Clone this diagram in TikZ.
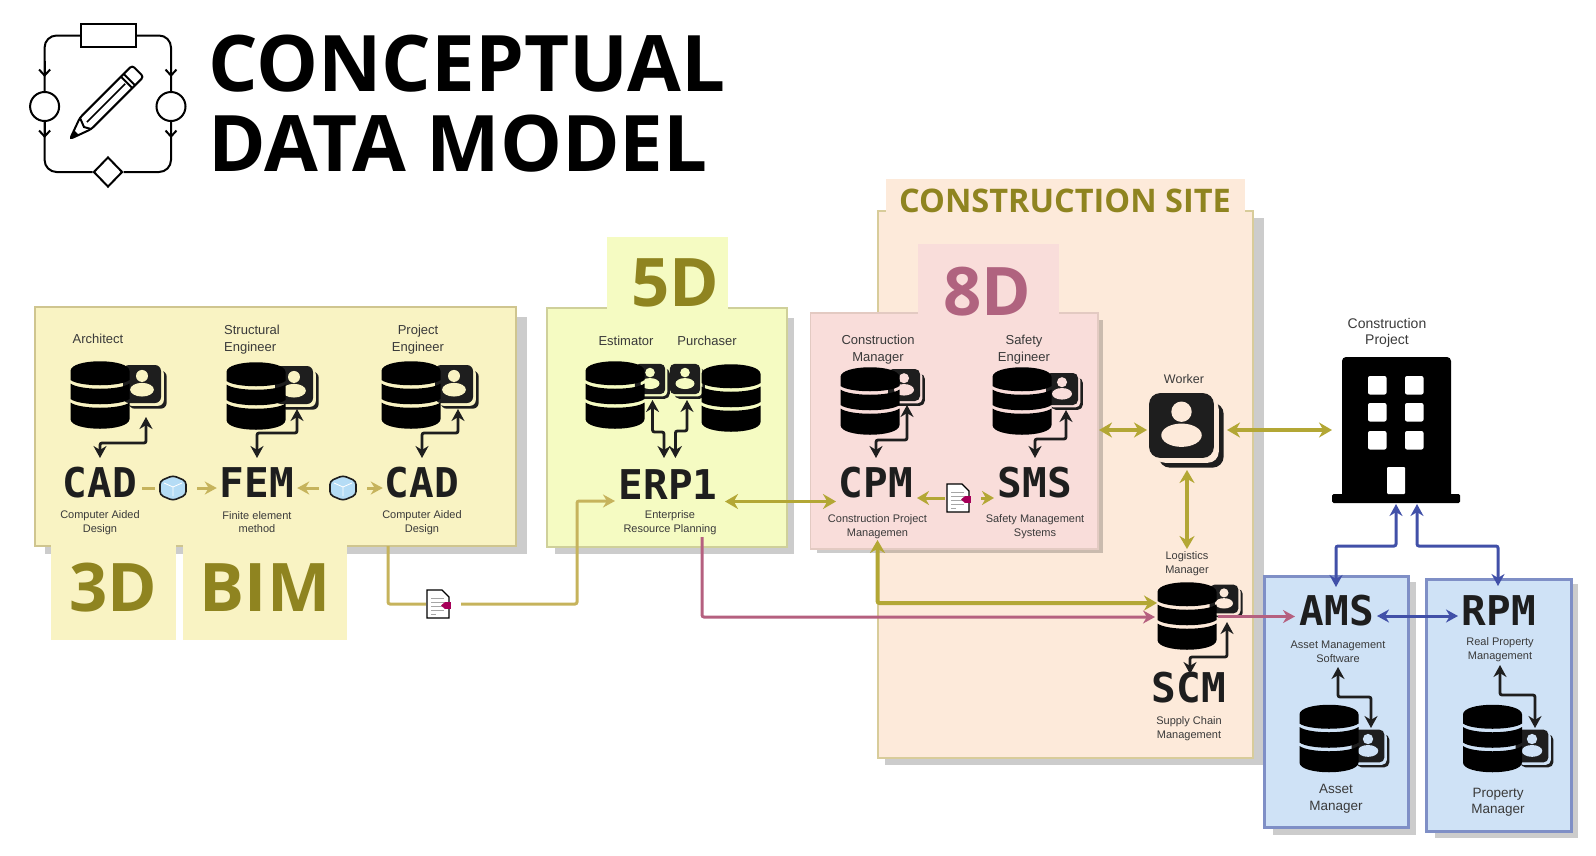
\documentclass[tikz,border=0pt]{standalone}
\usepackage{fontspec}
\setmainfont{Liberation Sans}
\newfontfamily\monofam{DejaVu Sans Mono}
\newfontfamily\headfam{Open Sans}
\usetikzlibrary{arrows.meta,shapes.geometric}
\definecolor{bimfill}{HTML}{F9F3C3}
\definecolor{bimedge}{HTML}{CFC58F}
\definecolor{erpfill}{HTML}{F5FBC2}
\definecolor{erpedge}{HTML}{CFD09A}
\definecolor{cpmfill}{HTML}{F9DDDA}
\definecolor{cpmedge}{HTML}{E3CAC2}
\definecolor{sitefill}{HTML}{FDEADA}
\definecolor{siteedge}{HTML}{D8CC9A}
\definecolor{amsfill}{HTML}{CFE2F6}
\definecolor{amsedge}{HTML}{7F8FC6}
\definecolor{olivetext}{HTML}{8F8420}
\definecolor{rosetext}{HTML}{B0637F}
\definecolor{tanline}{HTML}{C6B35C}
\definecolor{oliveline}{HTML}{B3A735}
\definecolor{roseline}{HTML}{B5607F}
\definecolor{blueline}{HTML}{4150A8}
\definecolor{inkline}{HTML}{1E1E1E}
\definecolor{labelink}{HTML}{3A3A3A}
\definecolor{cubeblue}{HTML}{B5DCF5}
\tikzset{
  lab/.style={font=\fontsize{13}{16.5}\selectfont,text=labelink,align=center,inner sep=0pt},
  sublab/.style={font=\fontsize{11}{13.8}\selectfont,text=labelink,align=center,inner sep=0pt},
  sysname/.style={font=\monofam\bfseries\fontsize{41}{41}\selectfont,text=inkline,inner sep=0pt},
  dimname/.style={font=\headfam\bfseries\fontsize{67}{67}\selectfont,inner sep=0pt},
  titlename/.style={font=\headfam\bfseries\fontsize{78}{78}\selectfont,inner sep=0pt,anchor=west},
  panelshade/.style={fill=black,opacity=.2},
  logoline/.style={draw=black,line width=2pt},
  logoflow/.style={logoline,-{Straight Barb[length=6pt,width=11pt]}},
  linkink/.style={draw=inkline,line width=2.8pt,rounded corners=2pt,{Stealth[length=12pt,width=13pt]}-{Stealth[length=12pt,width=13pt]}},
  linktan/.style={draw=tanline,line width=3pt,rounded corners=2pt},
  linkolive/.style={draw=oliveline,line width=3pt,rounded corners=2pt},
  linkrose/.style={draw=roseline,line width=3pt,rounded corners=2pt},
  linkblue/.style={draw=blueline,line width=3pt,rounded corners=2pt,{Stealth[length=12pt,width=13pt]}-{Stealth[length=12pt,width=13pt]}},
  tiptan/.style={-{Stealth[length=12pt,width=13pt]}},
  tipolive/.style={-{Stealth[length=12pt,width=14pt]}},
  bothtips/.style={{Stealth[length=13pt,width=15pt]}-{Stealth[length=13pt,width=15pt]}},
  tiprose/.style={-{Stealth[length=12pt,width=13pt]}},
  iconslot/.style={inner sep=0pt,minimum width=#1},
  pics/dbstack/.style={code={
    \fill[black] (-29.5,-24) .. controls (-29.5,-37) and (29.5,-37) .. (29.5,-24)
      -- (29.5,-15) .. controls (20,-8) and (-20,-8) .. (-29.5,-15) -- cycle;
    \fill[black] (-29.5,-11.5) .. controls (-20,-4.5) and (20,-4.5) .. (29.5,-11.5)
      -- (29.5,4) .. controls (20,11) and (-20,11) .. (-29.5,4) -- cycle;
    \fill[black] (-29.5,7.5) .. controls (-20,14.5) and (20,14.5) .. (29.5,7.5)
      -- (29.5,24) .. controls (29.5,37) and (-29.5,37) .. (-29.5,24) -- cycle;
  }},
  pics/person/.style 2 args={code={
    \fill[inkline,rounded corners=#2] (-14,-14) rectangle (26,26);
    \fill[#1,rounded corners=#2] (-17,-17) rectangle (23,23);
    \fill[inkline,rounded corners=#2] (-20,-20) rectangle (20,20);
    \fill[#1] (0,-8.5) circle (6.3);
    \fill[#1] (0,6) ellipse (12.5 and 7.2);
  }},
  pics/sheet/.style={code={
    \filldraw[fill=white,draw=black,line width=1.2pt] (-11,-14) -- (4,-14) -- (11,-7) -- (11,14) -- (-11,14) -- cycle;
    \foreach \ly in {-6,-2,2,6} \draw[gray!70,line width=.7pt] (-7,\ly) -- (6,\ly);
    \draw[gray!70,line width=.7pt] (-7,10) -- (-2,10);
    \fill[violet!70!red] (7,-2) rectangle (13,5);
    \fill[violet!70!red] (7,-2) -- (3,1.5) -- (7,5) -- cycle;
  }},
  pics/cube/.style={code={
    \filldraw[fill=cubeblue,draw=inkline,line width=1.6pt,rounded corners=3.5pt]
      (0,-12.5) -- (13,-7) -- (13,7) -- (0,12.5) -- (-13,7) -- (-13,-7) -- cycle;
    \draw[white,line width=.8pt] (0,-1) -- (0,8) (0,-1) -- (-9,-5) (0,-1) -- (9,-5);
  }}
}
\begin{document}
\begin{tikzpicture}[x=1pt,y=-1pt]
\useasboundingbox (0,0) rectangle (1596,855);
% logo
\node[draw=black,line width=2pt,fill=white,minimum width=55pt,minimum height=23pt,inner sep=0pt] (logotop) at (108.5,35.5) {};
\node[draw=black,line width=2pt,fill=white,circle,minimum size=29pt,inner sep=0pt] (logoleft) at (44.6,106.5) {};
\node[draw=black,line width=2pt,fill=white,circle,minimum size=29pt,inner sep=0pt] (logoright) at (171,106.5) {};
\node[draw=black,line width=2pt,fill=white,diamond,minimum width=29pt,minimum height=30pt,inner sep=0pt] (logobase) at (108,172) {};
\draw[logoline,rounded corners=12pt] (logotop.west) -| (logoleft.north);
\draw[logoline,rounded corners=12pt] (logoleft.south) |- (logobase.west);
\draw[logoline,rounded corners=12pt] (logobase.east) -| (logoright.south);
\draw[logoline,rounded corners=12pt] (logoright.north) |- (logotop.east);
\draw[logoflow] ([yshift=30pt]logoleft.north) -- ([yshift=14pt]logoleft.north);
\draw[logoflow] ([yshift=30pt]logoright.north) -- ([yshift=14pt]logoright.north);
\draw[logoflow] (logoleft.south) -- ([yshift=-16pt]logoleft.south);
\draw[logoflow] (logoright.south) -- ([yshift=-16pt]logoright.south);
\draw[logoline,rounded corners=3pt] (70,139) -- (79.9,117.7) -- (132.2,65.4) -- (143.6,76.8) -- (91.3,129.1) -- cycle;
\draw[logoline] (79.9,117.7) -- (84,127) -- (91.3,129.1);
\draw[logoline] (123.7,73.9) -- (135.1,85.3);
\draw[logoline] (120.9,76.7) -- (132.3,88.1);
\draw[line width=1.6pt] (87,122) -- (125.2,83.8);
\fill[black] (70,139) -- (74,130) -- (79,135) -- cycle;
\node[titlename] (titleone) at (208,64) {CONCEPTUAL};
\node[titlename] (titletwo) at (208,144) {DATA MODEL};
% construction site
\fill[panelshade] (885,218) rectangle (1264,765);
\draw[fill=sitefill,draw=siteedge,line width=2pt] (878,211) rectangle (1253,758);
\fill[sitefill] (886,179) rectangle (1245,212);
\node[font=\headfam\bfseries\fontsize{32.5}{32.5}\selectfont,text=olivetext,inner sep=0pt] (sitename) at (1065,200.5) {CONSTRUCTION SITE};
% 3d and bim
\fill[panelshade] (45,317) rectangle (527,554);
\draw[fill=bimfill,draw=bimedge,line width=1.5pt] (35,307) rectangle (516,546);
\fill[bimfill] (51,545) rectangle (176,640);
\fill[bimfill] (183,545) rectangle (347,640);
\node[dimname,text=olivetext] (dimthree) at (113,588) {3D};
\node[dimname,text=olivetext] (dimbim) at (265,588) {BIM};
% 5d
\fill[panelshade] (555,318) rectangle (794,554);
\draw[fill=erpfill,draw=erpedge,line width=1.5pt] (547,308) rectangle (787,547);
\fill[erpfill] (606.5,237) rectangle (728,309);
\node[dimname,text=olivetext] (dimfive) at (675,283) {5D};
% 8d
\fill[panelshade] (817,320) rectangle (1103,553);
\draw[fill=cpmfill,draw=cpmedge,line width=1.5pt] (810.5,313) rectangle (1098,549);
\fill[cpmfill] (918,244) rectangle (1059,314);
\node[dimname,text=rosetext] (dimeight) at (987,292) {8D};
% asset and property boxes
\fill[panelshade] (1273,582) rectangle (1416,835);
\draw[fill=amsfill,draw=amsedge,line width=3pt] (1264,576) rectangle (1408,827);
\fill[panelshade] (1435,584) rectangle (1578,838);
\draw[fill=amsfill,draw=amsedge,line width=3pt] (1426,579) rectangle (1571,831);
% building
\fill[black,rounded corners=4pt] (1342,357) rectangle (1451,498);
\fill[black,rounded corners=1.5pt] (1332,494) rectangle (1460,503);
\foreach \wx in {1368,1405} \foreach \wy in {376,403,431}
  \fill[white,rounded corners=2pt] (\wx,\wy) rectangle ++(18.5,18.5);
\fill[white,rounded corners=1pt] (1387,467) rectangle (1405,494);
\node[lab,font=\fontsize{14}{16.5}\selectfont] (projlab) at (1387,333) {Construction\\Project};
\coordinate (bldgwest) at (1332,430);
\coordinate (bldgams) at (1396,504);
\coordinate (bldgrpm) at (1417,504);
% role icons
\pic[scale=.95] at (142,384) {person={bimfill}{6pt}};
\pic at (100,395) {dbstack};
\pic[scale=.95] at (294,385) {person={bimfill}{6pt}};
\pic at (256,396) {dbstack};
\pic[scale=.95] at (454,384) {person={bimfill}{6pt}};
\pic at (411,395) {dbstack};
\pic[scale=.76] at (650,379) {person={erpfill}{5pt}};
\pic at (615,395) {dbstack};
\pic[scale=.76] at (685,379) {person={erpfill}{5pt}};
\pic at (731,398) {dbstack};
\pic[scale=.8] at (904,385) {person={cpmfill}{5pt}};
\pic at (870,401) {dbstack};
\pic[scale=.8] at (1062,389) {person={cpmfill}{5pt}};
\pic at (1022,401) {dbstack};
\pic[scale=.72] at (1224,599) {person={sitefill}{5pt}};
\pic at (1187,616) {dbstack};
\pic[scale=.82] at (1368,746) {person={amsfill}{5pt}};
\pic at (1329,738.5) {dbstack};
\pic[scale=.82] at (1532,746) {person={amsfill}{5pt}};
\pic at (1492.5,738.5) {dbstack};
\pic[scale=1.62] at (1181.5,425.5) {person={sitefill}{11pt}};
% role labels
\node[lab] (archlab) at (98,339) {Architect};
\node[lab,align=left] (structlab) at (252,339.5) {Structural\\Engineer};
\node[lab] (projenglab) at (418,339.5) {Project\\Engineer};
\node[lab] (estlab) at (626,341) {Estimator};
\node[lab] (purchlab) at (707,341) {Purchaser};
\node[lab] (cmlab) at (878,349.5) {Construction\\Manager};
\node[lab] (safelab) at (1024,349.5) {Safety\\Engineer};
\node[lab,font=\fontsize{12.5}{16.5}\selectfont] (workerlab) at (1184,379) {Worker};
\node[sublab] (loglab) at (1187,564) {Logistics\\Manager};
\node[lab,font=\fontsize{13.5}{16.5}\selectfont] (assetlab) at (1336,798.5) {Asset\\Manager};
\node[lab,font=\fontsize{13.5}{16.5}\selectfont] (proplab) at (1498,802) {Property\\Manager};
% system names
\node[sysname] (cadone) at (100,483) {CAD};
\node[sysname] (fem) at (257,483) {FEM};
\node[sysname] (cadtwo) at (422,483) {CAD};
\node[sysname] (erp) at (668,485) {ERP1};
\node[sysname] (cpm) at (876,483) {CPM};
\node[sysname] (sms) at (1035,483) {SMS};
\node[sysname] (scm) at (1189,688) {SCM};
\node[sysname] (ams) at (1337,611) {AMS};
\node[sysname] (rpm) at (1499,611) {RPM};
\node[sublab] (cadonesub) at (100,523) {Computer Aided\\Design};
\node[sublab] (femsub) at (257,522) {Finite element\\method};
\node[sublab] (cadtwosub) at (422,523) {Computer Aided\\Design};
\node[sublab] (erpsub) at (670,522.5) {Enterprise\\Resource Planning};
\node[sublab] (cpmsub) at (877.5,527) {Construction Project\\Managemen};
\node[sublab] (smssub) at (1035,527) {Safety Management\\Systems};
\node[sublab] (scmsub) at (1189,728.5) {Supply Chain\\Management};
\node[sublab] (amssub) at (1338,652) {Asset Management\\Software};
\node[sublab] (rpmsub) at (1500,650) {Real Property\\Management};
% exchanged files
\node[iconslot=26pt,minimum height=26pt] (cubeone) at (173,488) {};
\pic at (cubeone) {cube};
\node[iconslot=26pt,minimum height=26pt] (cubetwo) at (343,488) {};
\pic at (cubetwo) {cube};
\node[iconslot=24pt,minimum height=28pt] (docone) at (438,604) {};
\pic at (docone) {sheet};
\node[iconslot=24pt,minimum height=28pt] (doctwo) at (958,498) {};
\pic at (doctwo) {sheet};
% worker ends
\coordinate (workerwest) at (1147,430);
\coordinate (workereast) at (1227,430);
\coordinate (workersouth) at (1187,470);
\coordinate (logtop) at (1187,549);
\coordinate (cpmeast) at (1099,430);
% black links, system to store
\coordinate (cadonetip) at (100,458);
\coordinate (archtip) at (146,417);
\draw[linkink] (cadonetip) -- ++(0,-15) -| (archtip);
\coordinate (femtip) at (257,458);
\coordinate (structtip) at (297,409);
\draw[linkink] (femtip) -- ++(0,-25) -| (structtip);
\coordinate (cadtwotip) at (422,458);
\coordinate (projtip) at (458,409);
\draw[linkink] (cadtwotip) -- ++(0,-25) -| (projtip);
\coordinate (esttip) at (652.5,400);
\coordinate (erptipa) at (664,458);
\draw[linkink] (esttip) -- ++(0,32) -| (erptipa);
\coordinate (purchtip) at (687,400);
\coordinate (erptipb) at (675.4,458);
\draw[linkink] (purchtip) -- ++(0,31) -| (erptipb);
\coordinate (cpmtip) at (876,458);
\coordinate (cmtip) at (907,405);
\draw[linkink] (cpmtip) -- ++(0,-18) -| (cmtip);
\coordinate (smstip) at (1035,458);
\coordinate (safetip) at (1066,410);
\draw[linkink] (smstip) -- ++(0,-19) -| (safetip);
\coordinate (scmtip) at (1190,674);
\coordinate (logtip) at (1227,622);
\draw[linkink] (scmtip) -- ++(0,-17) -| (logtip);
\coordinate (amstip) at (1338,667);
\coordinate (assettip) at (1371,728);
\draw[linkink] (amstip) -- ++(0,30) -| (assettip);
\coordinate (rpmtip) at (1500,665);
\coordinate (proptip) at (1535,728);
\draw[linkink] (rpmtip) -- ++(0,30) -| (proptip);
% model exchange
\draw[draw=tanline,line width=3pt] ([xshift=5pt,yshift=-5pt]cadone.east) -- ([xshift=-5pt]cubeone.west);
\draw[draw=tanline,line width=3pt,tiptan] ([xshift=11pt]cubeone.east) -- ([xshift=-3pt,yshift=-5pt]fem.west);
\draw[draw=tanline,line width=3pt,tiptan] ([xshift=-11pt]cubetwo.west) -- ([xshift=3pt,yshift=-5pt]fem.east);
\draw[draw=tanline,line width=3pt,tiptan] ([xshift=11pt]cubetwo.east) -- ([xshift=-2pt,yshift=-5pt]cadtwo.west);
\coordinate (bimout) at (388,546);
\coordinate (erpwest) at (615,501);
\draw[linktan] (bimout) |- (docone.west);
\draw[linktan,tiptan] ([xshift=11pt]docone.east) -| (577,501) -- (erpwest);
% site exchange
\coordinate (erpeast) at (725,501.5);
\coordinate (cpmwest) at (836,501.5);
\draw[draw=oliveline,line width=3pt,bothtips] (erpeast) -- (cpmwest);
\draw[draw=oliveline,line width=3pt,tipolive] ([xshift=-1pt]doctwo.west) -- (917,498);
\draw[draw=oliveline,line width=3pt,tipolive] ([xshift=11pt]doctwo.east) -- (994,498);
\draw[draw=oliveline,line width=4pt,bothtips] (cpmeast) -- (workerwest);
\draw[draw=oliveline,line width=4pt,bothtips] (workereast) -- (bldgwest);
\draw[draw=oliveline,line width=4pt,bothtips] (workersouth) -- (logtop);
\coordinate (cpmsouth) at (877.5,540);
\coordinate (logwest) at (1157,603);
\draw[linkolive,line width=4pt,bothtips] (cpmsouth) |- (logwest);
\coordinate (erpsouth) at (702,537);
\coordinate (logrose) at (1155,617);
\draw[linkrose,tiprose] (erpsouth) |- (logrose);
\coordinate (logeast) at (1218,616.5);
\coordinate (amswest) at (1295,616.5);
\draw[linkrose,tiprose] (logeast) -- (amswest);
% owner side
\coordinate (amstop) at (1336,587);
\coordinate (rpmtop) at (1498,586);
\draw[linkblue] (bldgams) -- ++(0,42) -| (amstop);
\draw[linkblue] (bldgrpm) -- ++(0,42) -| (rpmtop);
\coordinate (amseast) at (1377,616);
\coordinate (rpmwest) at (1458,616);
\draw[linkblue] (amseast) -- (rpmwest);
\end{tikzpicture}
\end{document}
